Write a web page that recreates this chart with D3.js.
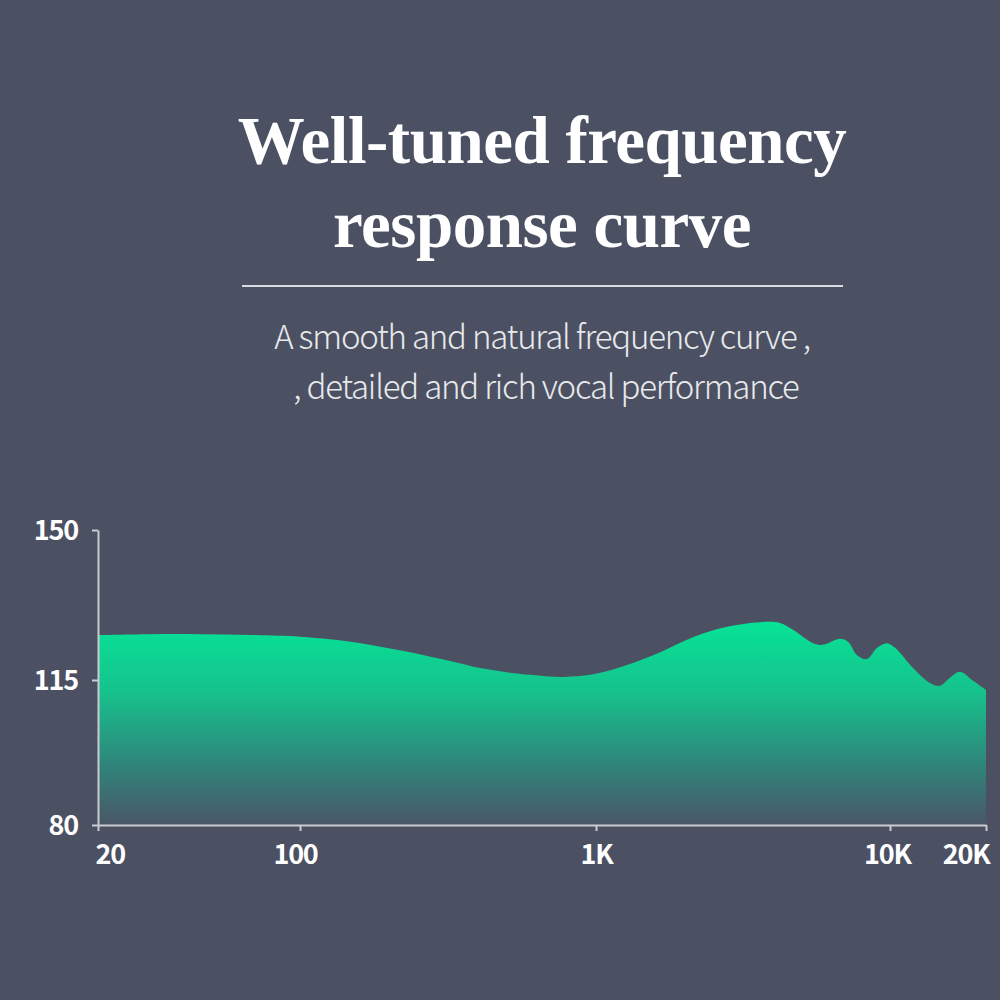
<!DOCTYPE html>
<html>
<head>
<meta charset="utf-8">
<script src="https://cdn.jsdelivr.net/npm/d3@7"></script>
<style>
  html, body { margin: 0; padding: 0; background: #4b5163; }
  svg { display: block; }
</style>
</head>
<body>
<div id="chart"></div>
<script>
// frequency response
var freqs = [20, 30, 45, 67, 100, 126, 160, 215, 300, 420, 599, 774, 1008, 1274, 1653, 2138, 2793, 3612, 4227, 4677, 5470, 5916, 6760, 7195, 7722, 8354, 9040, 9774, 10370, 11810, 13350, 14350, 15420, 16580, 18070, 20000];
var levels = [125.5, 125.7, 125.7, 125.5, 125.1, 124.5, 123.6, 122.0, 119.9, 117.6, 116.2, 115.7, 116.5, 118.5, 121.5, 125.0, 127.4, 128.5, 128.3, 126.7, 123.6, 123.2, 124.6, 123.9, 120.8, 119.9, 122.5, 123.6, 122.5, 117.8, 114.3, 113.6, 115.5, 116.9, 115.0, 112.6];

var freqTicks = [20, 100, 1000, 10000, 20000];
var freqLabels = ["20", "100", "1K", "10K", "20K"];
var levelTicks = [80, 115, 150];

var titleLines = ["Well-tuned frequency", "response curve"];
var subtitleLines = ["A smooth and natural frequency curve ,", ", detailed and rich vocal performance"];

var width = 1000,
    height = 1000;

var svg = d3.select("#chart")
    .append("svg")
    .attr("width", width)
    .attr("height", height);

svg.append("rect")
    .attr("width", width)
    .attr("height", height)
    .attr("fill", "#4b5163");

var x = d3.scaleLog()
    .domain(freqTicks)
    .range([98, 300, 596, 890, 986]);

var y = d3.scaleLinear()
    .domain(levelTicks)
    .range([825, 680, 530]);

// gradient fill
var grad = svg.append("defs")
    .append("linearGradient")
    .attr("id", "fillGrad")
    .attr("gradientUnits", "userSpaceOnUse")
    .attr("x1", 0).attr("x2", 0)
    .attr("y1", y(129)).attr("y2", y(80));

grad.append("stop").attr("offset", "0%").attr("stop-color", "#06e497");
grad.append("stop").attr("offset", "35%").attr("stop-color", "#16c28c");
grad.append("stop").attr("offset", "70%").attr("stop-color", "#2f867b");
grad.append("stop").attr("offset", "100%").attr("stop-color", "#4a5667");

var pts = freqs.map(function(f, i) { return {f: f, v: levels[i]}; });

var area = d3.area()
    .x(function(d) { return x(d.f); })
    .y0(y(80))
    .y1(function(d) { return y(d.v); })
    .curve(d3.curveCatmullRom.alpha(0.5));

svg.append("path")
    .datum(pts)
    .attr("d", area)
    .attr("fill", "url(#fillGrad)");

// axes
var xAxis = svg.append("g")
    .attr("transform", "translate(0," + y(80) + ")")
    .call(d3.axisBottom(x)
        .tickValues(freqTicks)
        .tickFormat(function(d, i) { return freqLabels[i]; })
        .tickSize(6)
        .tickSizeOuter(0)
        .tickPadding(14));

var yAxis = svg.append("g")
    .attr("transform", "translate(" + x(20) + ",0)")
    .call(d3.axisLeft(y)
        .tickValues(levelTicks)
        .tickSize(6)
        .tickSizeOuter(0)
        .tickPadding(14));

[xAxis, yAxis].forEach(function(g) {
  g.select(".domain").attr("stroke", "#c9cbd0").attr("stroke-width", 2);
  g.selectAll(".tick line").attr("stroke", "#c9cbd0").attr("stroke-width", 2);
  g.selectAll(".tick text")
      .attr("fill", "#ffffff")
      .style("font-family", "'Noto Sans CJK SC', 'Noto Sans', sans-serif")
      .style("font-weight", "bold")
      .style("font-size", "27px")
      .style("letter-spacing", "-1.2px");
});

xAxis.selectAll(".tick text")
    .attr("text-anchor", function(d, i) {
      return i == 0 ? "start" : (i == freqTicks.length - 1 ? "end" : "middle");
    })
    .attr("dx", function(d, i) { return [-3, -5, 0, -3, 3][i]; });

yAxis.selectAll(".tick text").attr("dy", "0.36em");

// heading
svg.selectAll(".title")
    .data(titleLines)
    .enter()
    .append("text")
    .attr("class", "title")
    .attr("x", 542)
    .attr("y", function(d, i) { return 163 + i * 84; })
    .attr("text-anchor", "middle")
    .attr("fill", "#ffffff")
    .style("font-family", "'Liberation Serif', 'DejaVu Serif', serif")
    .style("font-weight", "bold")
    .style("font-size", "67px")
    .style("letter-spacing", "-0.5px")
    .text(function(d) { return d; });

svg.append("line")
    .attr("x1", 242).attr("x2", 843)
    .attr("y1", 286).attr("y2", 286)
    .attr("stroke", "#d9dadd")
    .attr("stroke-width", 2);

svg.selectAll(".sub")
    .data(subtitleLines)
    .enter()
    .append("text")
    .attr("class", "sub")
    .attr("x", function(d, i) { return i == 0 ? 542 : 546; })
    .attr("y", function(d, i) { return 349 + i * 50; })
    .attr("text-anchor", "middle")
    .attr("fill", "#e8e9eb")
    .style("font-family", "'Noto Sans CJK SC', 'Noto Sans', sans-serif")
    .style("font-weight", 300)
    .style("font-size", "33px")
    .style("letter-spacing", "-1.2px")
    .text(function(d) { return d; });
</script>
</body>
</html>
